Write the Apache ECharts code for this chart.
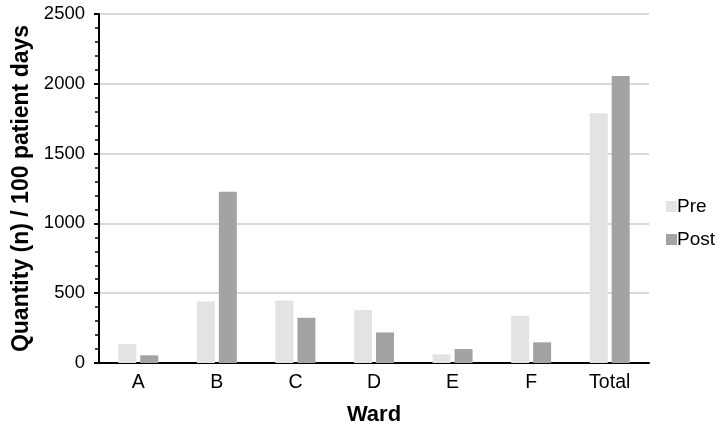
<!DOCTYPE html>
<html><head><meta charset="utf-8">
<script src="https://cdn.jsdelivr.net/npm/echarts@6/dist/echarts.min.js"></script>
<style>html,body{margin:0;padding:0;background:#fff}#c{width:727px;height:433px}</style>
</head><body><div id="c"></div>
<script>
const categories = ['A','B','C','D','E','F','Total'];
const preValues = [136, 441, 448, 379, 62, 338, 1789];
const postValues = [55, 1226, 324, 219, 100, 148, 2055];
const yTicks = [0, 500, 1000, 1500, 2000, 2500];

const chart = echarts.init(document.getElementById('c'));
const font = '"Liberation Sans", Arial, sans-serif';
chart.setOption({
  animation: false,
  textStyle: {fontFamily: font},
  grid: {left: 99, right: 78, top: 14, bottom: 70, outerBoundsMode: 'none', containLabel: false},
  legend: {
    orient: 'vertical', left: 661, top: 192,
    itemWidth: 11, itemHeight: 11, itemGap: 14,
    icon: 'rect',
    textStyle: {fontSize: 19, color: '#000', fontFamily: font, padding: [0,0,0,-5]},
    data: ['Pre','Post']
  },
  xAxis: {
    type: 'category', data: categories,
    name: 'Ward', nameLocation: 'middle', nameGap: 41,
    nameTextStyle: {fontSize: 22, fontWeight: 'bold', color: '#000', fontFamily: font},
    axisLine: {lineStyle: {color: '#000', width: 2}},
    axisTick: {show: false},
    axisLabel: {fontSize: 19.5, color: '#000', margin: 10, fontFamily: font}
  },
  yAxis: {
    type: 'value', min: yTicks[0], max: yTicks[yTicks.length-1], interval: 500,
    name: 'Quantity (n) / 100 patient days', nameLocation: 'middle', nameGap: 64,
    nameTextStyle: {fontSize: 23, fontWeight: 'bold', color: '#000', fontFamily: font},
    axisLine: {show: true, lineStyle: {color: '#000', width: 2}},
    axisTick: {show: true, length: 5, lineStyle: {color: '#000', width: 2}},
    minorTick: {show: true, splitNumber: 5, length: 4, lineStyle: {color: '#000', width: 1.5}},
    axisLabel: {fontSize: 18.5, color: '#000', margin: 14, fontFamily: font, formatter: v => String(v)},
    splitLine: {lineStyle: {color: '#d9d9d9', width: 2}}
  },
  series: [
    {name: 'Pre', type: 'bar', data: preValues, barWidth: 18, barGap: '22%',
     itemStyle: {color: '#e3e3e3'}},
    {name: 'Post', type: 'bar', data: postValues, barWidth: 18,
     itemStyle: {color: '#a3a3a3'}}
  ]
});
</script></body></html>
